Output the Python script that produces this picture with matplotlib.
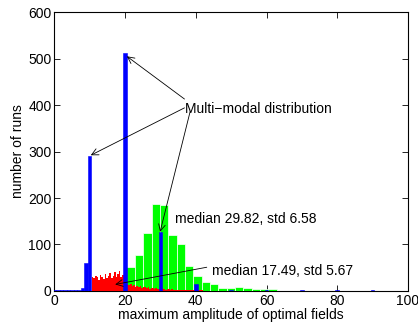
import numpy as np
import matplotlib
matplotlib.use("Agg")
import matplotlib.pyplot as plt

plt.rcParams['font.family'] = ['Liberation Sans', 'DejaVu Sans']

# green histogram (wide bins)
green_start = 20.4
green_width = 2.36
green_counts = [51, 77, 124, 187, 185, 120, 100, 54, 32, 20, 14, 7, 6, 9, 6, 4, 4, 4]

# red histogram (narrow bins)
red_start = 10.6
red_width = 0.45
red_counts = [30, 27, 33, 29, 24, 35, 31, 26, 36, 28, 32, 38, 27, 33, 40, 30,
              37, 42, 29, 34, 25, 20, 15, 13, 16, 11, 12, 9, 11, 8, 10, 7,
              9, 8, 6, 8, 5, 7, 6, 5, 7, 4, 5, 4, 6, 4, 3, 5,
              4, 3, 4, 3, 2, 3, 2, 3, 2, 2, 3, 2, 1, 2, 1, 2,
              1, 2, 1, 1, 2, 1]

# blue histogram (unit bins, centred on integers)
blue_centers = [0, 1, 2, 3, 4, 5, 6, 7, 8, 9, 10, 20, 30, 40, 50, 60, 70, 80, 90]
blue_counts = [1.5, 1.5, 1.5, 1.5, 1.5, 1.5, 1.5, 1.5, 6, 60, 290, 512, 126, 15, 3, 2, 1.5, 1.5, 1.5]

fig = plt.figure(figsize=(4.18, 3.28), dpi=100)
ax = fig.add_axes([0.130, 0.113, 0.846, 0.850])

gx = green_start + green_width * np.arange(len(green_counts))
ax.bar(gx, green_counts, width=green_width, align='edge', color=(0, 1, 0),
       edgecolor='white', linewidth=0.5, zorder=2)

rx = red_start + red_width * np.arange(len(red_counts))
ax.bar(rx, red_counts, width=red_width, align='edge', color=(1, 0, 0),
       linewidth=0, zorder=3)

ax.bar(blue_centers, blue_counts, width=1.0, color=(0, 0, 1),
       edgecolor=(0, 0, 1), linewidth=0.4, zorder=4)

ax.set_xlim(0, 100)
ax.set_ylim(0, 600)
ax.set_xticks(range(0, 101, 20))
ax.set_yticks(range(0, 601, 100))
ax.tick_params(direction='in', top=True, right=True, length=4, width=0.6,
               labelsize=10, pad=2)
for s in ax.spines.values():
    s.set_linewidth(0.8)
    s.set_zorder(1)

ax.set_xlabel('maximum amplitude of optimal fields', fontsize=10, labelpad=0)
ax.set_ylabel('number of runs', fontsize=10, labelpad=2)

arrow = dict(arrowstyle='->', lw=0.6, color='black', shrinkA=0, shrinkB=0,
             mutation_scale=12)

# multi-modal annotation
ax.text(37.0, 391, 'Multi\u2212modal distribution', fontsize=10, va='center', ha='left', zorder=6)
ax.annotate('', xy=(20.5, 505), xytext=(36.8, 413), arrowprops=arrow, zorder=6)
ax.annotate('', xy=(10.3, 292), xytext=(36.8, 394), arrowprops=arrow, zorder=6)
ax.annotate('', xy=(29.9, 127), xytext=(38.4, 386), arrowprops=arrow, zorder=6)

ax.text(34.1, 155, 'median 29.82, std 6.58', fontsize=10, va='center', ha='left', zorder=6)

ax.text(44.7, 42, 'median 17.49, std 5.67', fontsize=10, va='center', ha='left', zorder=6)
ax.annotate('', xy=(17.2, 14), xytext=(43.1, 51), arrowprops=arrow, zorder=6)

fig.savefig('out.png', dpi=100)
